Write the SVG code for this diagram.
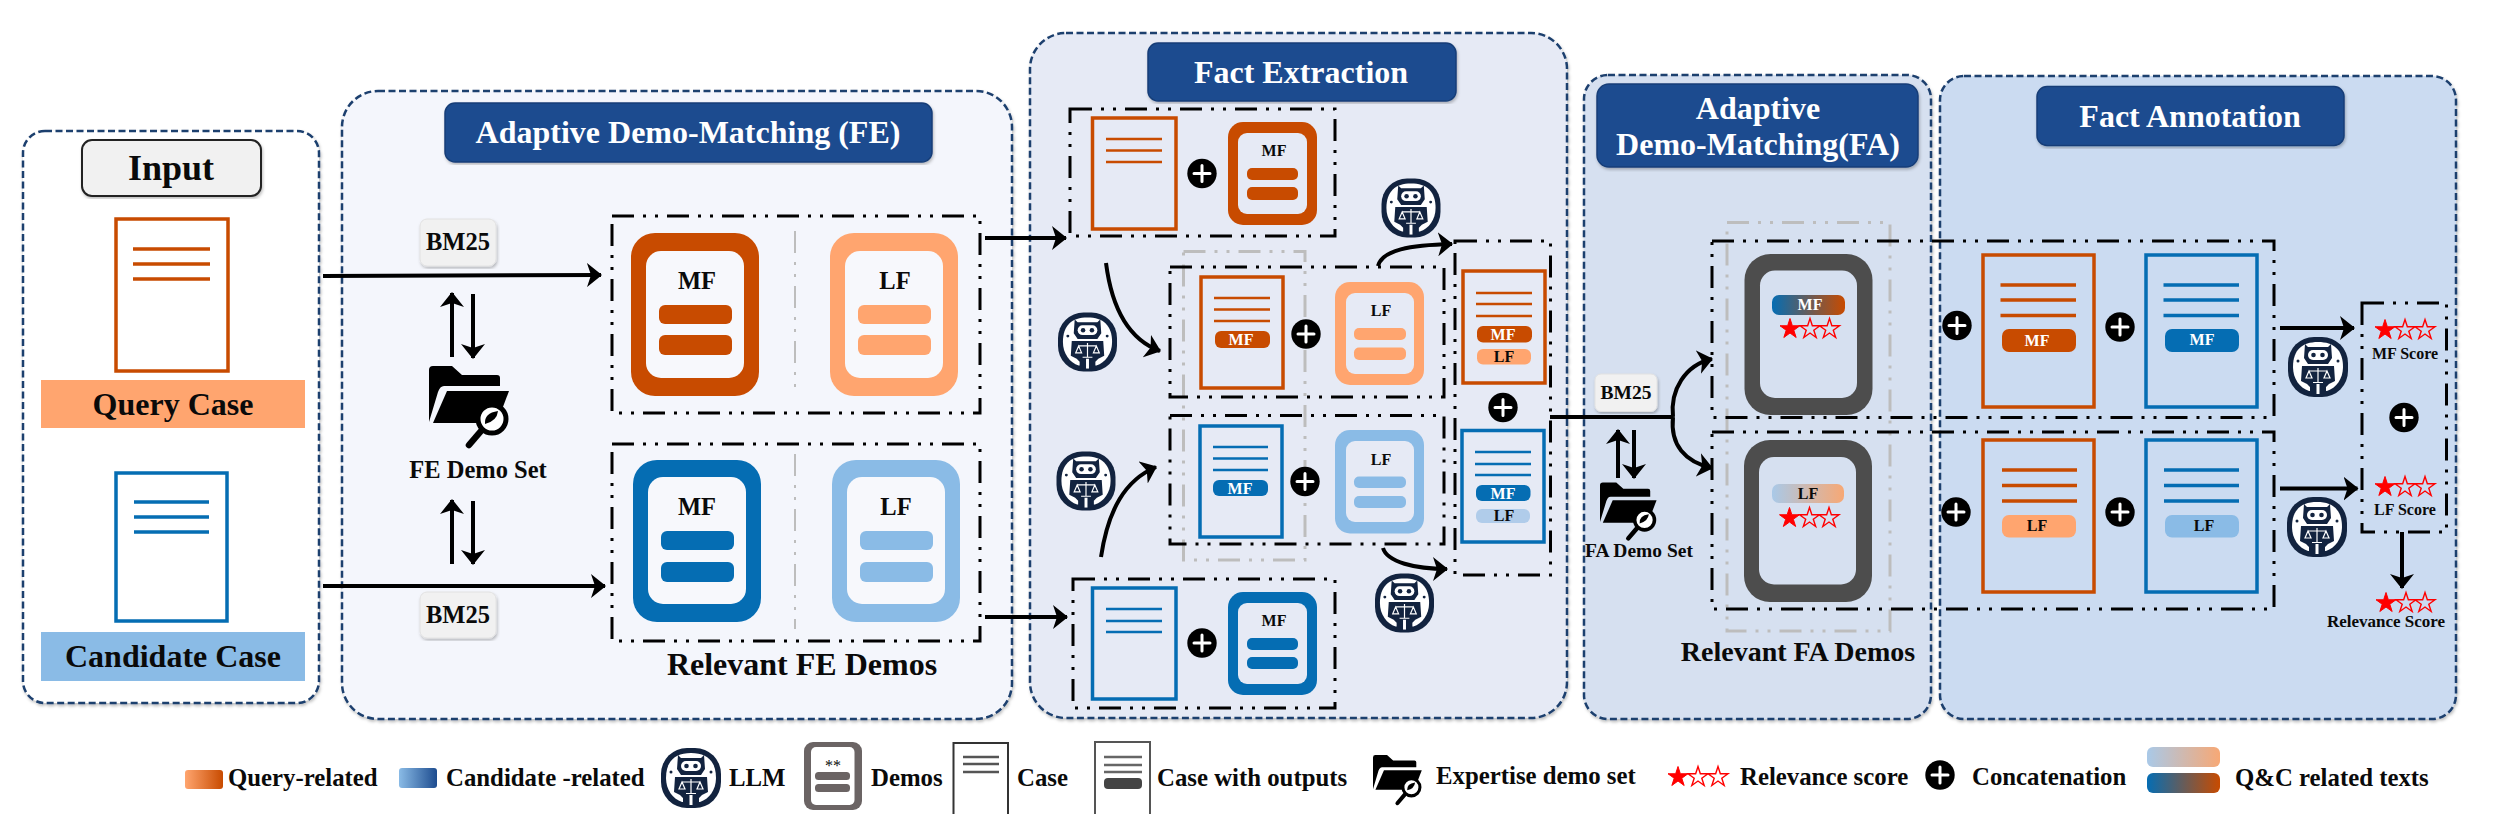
<svg xmlns="http://www.w3.org/2000/svg" xmlns:xlink="http://www.w3.org/1999/xlink" width="2504" height="814" viewBox="0 0 2504 814">
<style>
text{font-family:"Liberation Serif","Times New Roman",serif;font-weight:700;fill:#0a0a0a;text-anchor:middle;dominant-baseline:central}
.w{fill:#fff}
.l{text-anchor:start}
.s32{font-size:32px}.s24{font-size:24.5px}.s16{font-size:16px}.lg{font-size:24.8px}
.panel{stroke:#1d3f6e;stroke-width:2.5;stroke-dasharray:7 3.5;filter:url(#sh)}
.title{fill:#1d4c8f;stroke:#173e78;stroke-width:1.5;filter:url(#sh)}
.dd{fill:none;stroke:#000;stroke-width:3;stroke-dasharray:22 9 3 9 3 9}
.gd{fill:none;stroke:#bdbdbd;stroke-width:3;stroke-dasharray:22 9 3 9 3 9}
.bm{fill:#f1f1f1;stroke:#e2e2e2;stroke-width:1;filter:url(#sh)}
.co{fill:#c84b00}.lo{fill:#ffa56f}.cb{fill:#056db3}.lb{fill:#8abbe6}
.doc{fill:none;stroke-width:3.5}
.dco{stroke:#c84b00}.dcb{stroke:#056db3}
.ln{stroke-width:3.5;fill:none}
.inp{fill:#e6eaf5}
.c{fill:none;stroke:#000;stroke-width:4}
.t{fill:none;stroke:#000;stroke-width:4;marker-end:url(#ah)}
</style>
<defs>
<filter id="sh" x="-5%" y="-5%" width="110%" height="110%"><feDropShadow dx="1" dy="2" stdDeviation="1.5" flood-color="#000" flood-opacity=".25"/></filter>
<marker id="ah" markerUnits="userSpaceOnUse" markerWidth="24" markerHeight="24" refX="14" refY="12" orient="auto" viewBox="0 0 24 24"><path d="M0 0L15 12L0 24L4 12Z" fill="#000"/></marker>
<linearGradient id="g1" x1="0" x2="1" y1="0" y2="0"><stop offset="0" stop-color="#ffa56f"/><stop offset="1" stop-color="#c84b00"/></linearGradient>
<linearGradient id="g2" x1="0" x2="1" y1="0" y2="0"><stop offset="0" stop-color="#8abbe6"/><stop offset="1" stop-color="#1d4c8f"/></linearGradient>
<linearGradient id="g3" x1="0" x2="1" y1="0" y2="0"><stop offset="0" stop-color="#056db3"/><stop offset="1" stop-color="#c84b00"/></linearGradient>
<linearGradient id="g4" x1="0" x2="1" y1="0" y2="0"><stop offset="0" stop-color="#a9c9e8"/><stop offset="1" stop-color="#f7a875"/></linearGradient>
<symbol id="robot" viewBox="0 0 60 60" overflow="visible">
<rect width="60" height="60" rx="26" fill="#12233f"/>
<path d="M5 30C5 13 14 5 30 5C46 5 55 13 55 30C55 42 48 51 39 54L21 54C12 51 5 42 5 30Z" fill="#fff"/>
<path d="M17 7L20 10H40L43 7L44 21L40 27H20L16 21Z" fill="#12233f"/>
<rect x="20" y="13" width="20" height="10" rx="5" fill="#fff"/>
<circle cx="25.500" cy="18" r="2.300" fill="#12233f"/><circle cx="34.500" cy="18" r="2.300" fill="#12233f"/>
<path d="M14 29H46L47 44L41 47L38 50V57H22V50L19 47L13 44Z" fill="#12233f"/>
<path d="M30 31V45M25 45.500H35M21 34H39M21 34L18 41H24ZM39 34L36 41H42Z" stroke="#fff" stroke-width="1.200" fill="none"/>
<rect x="28.500" y="47" width="3" height="10" fill="#fff"/>
<circle cx="10" cy="24" r="1.500" fill="#12233f"/><circle cx="50" cy="24" r="1.500" fill="#12233f"/>
</symbol>
<symbol id="folder" viewBox="0 0 82 82" overflow="visible">
<path d="M0 4Q0 0 4 0L23 0L33 9L68 9Q71 9 71 12L71 20L15 20Q11 20 9 26L0 56Z" fill="#000"/>
<path d="M18 25L80 25L72 46L50 57L4 57Z" fill="#000"/>
<circle cx="63" cy="53" r="14" fill="#fff" stroke="#000" stroke-width="5"/>
<path d="M56 58Q55 47 69 45Q68 55 56 58Z" fill="#000"/>
<path d="M52 65L40 79" stroke="#000" stroke-width="6.500" stroke-linecap="round"/>
</symbol>
<symbol id="plus" viewBox="-15 -15 30 30" overflow="visible">
<circle r="14.700" fill="#000"/><path d="M-8 0H8M0-8V8" stroke="#fff" stroke-width="3" stroke-linecap="round"/>
</symbol>
<path id="sf" d="M0-10.500L2.350-3.240L9.990-3.240L3.800 1.240L6.170 8.490L0 4L-6.170 8.490L-3.800 1.240L-9.990-3.240L-2.350-3.240Z" fill="#f00" stroke="#f00" stroke-width="1"/>
<path id="so" d="M0-10.500L2.350-3.240L9.990-3.240L3.800 1.240L6.170 8.490L0 4L-6.170 8.490L-3.800 1.240L-9.990-3.240L-2.350-3.240Z" fill="none" stroke="#f00" stroke-width="1.400"/>
</defs>

<g id="panels">
<rect id="panel-input" x="23" y="131" width="296" height="572" rx="22" fill="#fff" class="panel"/>
<rect id="panel-fe" x="342" y="91" width="670" height="628" rx="36" fill="#f4f6fc" class="panel"/>
<rect id="panel-fx" x="1030" y="33" width="537" height="685" rx="36" fill="#e6eaf5" class="panel"/>
<rect id="panel-fa" x="1584" y="75" width="347" height="644" rx="24" fill="#d6e0f0" class="panel"/>
<rect id="panel-ann" x="1940" y="76" width="516" height="643" rx="24" fill="#cbdbf1" class="panel"/>
</g>

<g id="node-input">
<rect x="82" y="140" width="179" height="56" rx="10" fill="#f1f1f1" stroke="#222" stroke-width="2" filter="url(#sh)"/>
<text x="171" y="168" style="font-size:36px">Input</text>
</g>
<g id="node-query">
<rect x="116" y="219" width="112" height="152" class="doc dco" style="fill:#fff"/>
<path d="M133 249H210M133 264H210M133 279H210" class="ln dco"/>
<rect x="41" y="380" width="264" height="48" class="lo"/>
<text x="173" y="404" class="s32">Query Case</text>
</g>
<g id="node-candidate">
<rect x="116" y="473" width="111" height="148" class="doc dcb" style="fill:#fff"/>
<path d="M134 502H209M134 517H209M134 532H209" class="ln dcb"/>
<rect x="41" y="632" width="264" height="49" class="lb"/>
<text x="173" y="656" class="s32">Candidate Case</text>
</g>

<g id="node-fe-title">
<rect x="445" y="103" width="487" height="59" rx="10" class="title"/>
<text x="688" y="132" class="s32 w">Adaptive Demo-Matching (FE)</text>
</g>
<g id="node-bm25-1"><rect x="420" y="219" width="76" height="47" rx="7" class="bm"/><text x="458" y="241" class="s24">BM25</text></g>
<g id="node-bm25-2"><rect x="420" y="592" width="76" height="46" rx="7" class="bm"/><text x="458" y="614" class="s24">BM25</text></g>
<g id="node-fe-set">
<use href="#folder" x="429" y="366" width="82" height="82"/>
<text x="478" y="469" class="s24">FE Demo Set</text>
</g>
<g id="node-fe-demos-top">
<rect x="612" y="216" width="368" height="197" class="dd"/>
<path d="M795 231V396" class="gd" style="stroke-width:2"/>
<rect x="631" y="233" width="128" height="163" rx="24" class="co"/><rect x="646" y="251" width="98" height="127" rx="15" fill="#f7f8fc"/>
<text x="697" y="280" class="s24">MF</text>
<rect x="659" y="305" width="73" height="19" rx="6" class="co"/><rect x="659" y="335" width="73" height="20" rx="6" class="co"/>
<rect x="830" y="233" width="128" height="163" rx="24" class="lo"/><rect x="845" y="251" width="98" height="127" rx="15" fill="#f7f8fc"/>
<text x="895" y="280" class="s24">LF</text>
<rect x="858" y="305" width="73" height="19" rx="6" class="lo"/><rect x="858" y="335" width="73" height="20" rx="6" class="lo"/>
</g>
<g id="node-fe-demos-bottom">
<rect x="612" y="444" width="368" height="197" class="dd"/>
<path d="M795 454V629" class="gd" style="stroke-width:2"/>
<rect x="633" y="460" width="128" height="162" rx="24" class="cb"/><rect x="648" y="477" width="98" height="127" rx="15" fill="#f7f8fc"/>
<text x="697" y="506" class="s24">MF</text>
<rect x="661" y="531" width="73" height="19" rx="6" class="cb"/><rect x="661" y="562" width="73" height="20" rx="6" class="cb"/>
<rect x="832" y="460" width="128" height="162" rx="24" class="lb"/><rect x="847" y="477" width="98" height="127" rx="15" fill="#f7f8fc"/>
<text x="896" y="506" class="s24">LF</text>
<rect x="860" y="531" width="73" height="19" rx="6" class="lb"/><rect x="860" y="562" width="73" height="20" rx="6" class="lb"/>
</g>
<text id="label-fe-demos" x="802" y="664" class="s32">Relevant FE Demos</text>

<g id="node-fx-title">
<rect x="1148" y="43" width="308" height="58" rx="10" class="title"/>
<text x="1301" y="72" class="s32 w">Fact Extraction</text>
</g>
<g id="node-fx-gray"><rect x="1183.500" y="251.500" width="121.500" height="308.500" class="gd"/></g>
<g id="node-fx-1">
<rect x="1070" y="109" width="265" height="127" class="dd"/>
<rect x="1092.500" y="118" width="83.500" height="111" class="doc dco"/>
<path d="M1106 139H1162M1106 150.500H1162M1106 162H1162" class="ln dco" style="stroke-width:2.500"/>
<use href="#plus" x="1187" y="158.500" width="30" height="30"/>
<rect x="1228" y="122" width="89" height="103" rx="15" class="co"/><rect x="1238" y="133" width="69" height="81" rx="9" class="inp"/>
<text x="1274" y="150.500" class="s16">MF</text>
<rect x="1247" y="168" width="51" height="12" rx="5" class="co"/><rect x="1247" y="187" width="51" height="13" rx="5" class="co"/>
</g>
<g id="node-fx-2">
<rect x="1170" y="267" width="274" height="130" class="dd"/>
<rect x="1201" y="277" width="82" height="111" class="doc dco"/>
<path d="M1214 298H1270M1214 309.500H1270M1214 321H1270" class="ln dco" style="stroke-width:2.500"/>
<rect x="1215" y="331" width="55" height="17" rx="6" class="co"/><text x="1241" y="339.500" class="s16 w">MF</text>
<use href="#plus" x="1291" y="319" width="30" height="30"/>
<rect x="1335" y="282" width="89" height="103" rx="15" class="lo"/><rect x="1346" y="293" width="68" height="81" rx="9" class="inp"/>
<text x="1381" y="310" class="s16">LF</text>
<rect x="1354" y="328" width="52" height="12" rx="5" class="lo"/><rect x="1354" y="347.500" width="52" height="12.500" rx="5" class="lo"/>
</g>
<g id="node-fx-3">
<rect x="1170" y="415.500" width="274" height="128.500" class="dd"/>
<rect x="1200" y="426" width="82" height="111" class="doc dcb"/>
<path d="M1213 447H1268M1213 458.600H1268M1213 470H1268" class="ln dcb" style="stroke-width:2.500"/>
<rect x="1213" y="480" width="55" height="16" rx="6" class="cb"/><text x="1240" y="488" class="s16 w">MF</text>
<use href="#plus" x="1290" y="466.500" width="30" height="30"/>
<rect x="1335" y="430" width="89" height="103.500" rx="15" class="lb"/><rect x="1346" y="441" width="68" height="81" rx="9" class="inp"/>
<text x="1381" y="459" class="s16">LF</text>
<rect x="1354" y="476.500" width="52" height="11.500" rx="5" class="lb"/><rect x="1354" y="496" width="52" height="12" rx="5" class="lb"/>
</g>
<g id="node-fx-4">
<rect x="1073" y="579" width="262" height="129" class="dd"/>
<rect x="1092.500" y="588" width="83.500" height="111" class="doc dcb"/>
<path d="M1106 609H1162M1106 621H1162M1106 632H1162" class="ln dcb" style="stroke-width:2.500"/>
<use href="#plus" x="1187" y="628" width="30" height="30"/>
<rect x="1228" y="592" width="89" height="103" rx="15" class="cb"/><rect x="1238" y="603" width="69" height="81" rx="9" class="inp"/>
<text x="1274" y="620" class="s16">MF</text>
<rect x="1247" y="638" width="51" height="12" rx="5" class="cb"/><rect x="1247" y="657" width="51" height="12" rx="5" class="cb"/>
</g>
<g id="node-fx-5">
<rect x="1455" y="241" width="95.500" height="334" class="dd"/>
<rect x="1463" y="271" width="82" height="112" class="doc dco"/>
<path d="M1476 293H1532M1476 304H1532M1476 316H1532" class="ln dco" style="stroke-width:2.500"/>
<rect x="1477" y="326" width="55" height="16.500" rx="6" class="co"/><text x="1503" y="334" class="s16 w">MF</text>
<rect x="1477" y="349" width="54" height="15.500" rx="6" class="lo"/><text x="1504" y="356" class="s16">LF</text>
<use href="#plus" x="1488" y="392.500" width="30" height="30"/>
<rect x="1462" y="430.500" width="82" height="111.500" class="doc dcb"/>
<path d="M1475 452H1531M1475 464H1531M1475 475H1531" class="ln dcb" style="stroke-width:2.500"/>
<rect x="1476" y="485" width="54.500" height="16" rx="6" class="cb"/><text x="1503" y="493" class="s16 w">MF</text>
<rect x="1476" y="509" width="54" height="14" rx="6" fill="#b0ccea"/><text x="1504" y="515" class="s16">LF</text>
</g>
<use id="node-robot-1" href="#robot" x="1381.500" y="178.500" width="59" height="59"/>
<use id="node-robot-2" href="#robot" x="1058" y="312.500" width="59" height="59"/>
<use id="node-robot-3" href="#robot" x="1056.500" y="451.500" width="59" height="59"/>
<use id="node-robot-4" href="#robot" x="1375" y="573.500" width="59" height="59"/>

<g id="node-fa-title">
<rect x="1597" y="84" width="321" height="83" rx="12" class="title"/>
<text x="1758" y="108" class="s32 w">Adaptive</text>
<text x="1758" y="144" class="s32 w">Demo-Matching(FA)</text>
</g>
<g id="node-ann-title">
<rect x="2037" y="86.500" width="307" height="59" rx="10" class="title"/>
<text x="2190" y="116" class="s32 w">Fact Annotation</text>
</g>
<g id="node-bm25-3"><rect x="1595" y="374" width="62" height="37.500" rx="6" class="bm"/><text x="1626" y="392" style="font-size:19.500px">BM25</text></g>
<g id="node-fa-set">
<use href="#folder" x="1600" y="482" width="58" height="59"/>
<text x="1639" y="550" style="font-size:19.500px">FA Demo Set</text>
</g>
<g id="node-fa-gray"><rect x="1727" y="222.500" width="163" height="408.500" class="gd"/></g>
<g id="node-fa-demo-top">
<rect x="1744.500" y="254" width="128" height="161" rx="26" fill="#4d4d4d"/><rect x="1760" y="270.500" width="97" height="127.500" rx="15" fill="#d6e0f0"/>
<rect x="1772" y="295" width="73" height="20" rx="7" fill="url(#g3)"/><text x="1810" y="304.500" class="s16 w">MF</text>
<use href="#sf" x="1790" y="329"/><use href="#so" x="1810" y="329"/><use href="#so" x="1829.500" y="329"/>
</g>
<g id="node-fa-demo-bottom">
<rect x="1744" y="440" width="128" height="162" rx="26" fill="#4d4d4d"/><rect x="1759" y="457" width="97" height="127.500" rx="15" fill="#d6e0f0"/>
<rect x="1772" y="484" width="72" height="19" rx="7" fill="url(#g4)"/><text x="1808" y="493" class="s16">LF</text>
<use href="#sf" x="1789.500" y="518"/><use href="#so" x="1809.500" y="518"/><use href="#so" x="1829" y="518"/>
</g>
<g id="node-ann-top">
<rect x="1712" y="241" width="562" height="176.500" class="dd"/>
<rect x="1983" y="255" width="111" height="152" class="doc dco"/>
<path d="M2000.500 285H2076M2000.500 300H2076M2000.500 315.500H2076" class="ln dco"/>
<rect x="2002" y="329" width="74" height="23" rx="7" class="co"/><text x="2037" y="340" class="s16 w">MF</text>
<rect x="2146" y="255" width="111" height="152" class="doc dcb"/>
<path d="M2163.500 285H2239M2163.500 300H2239M2163.500 315.500H2239" class="ln dcb"/>
<rect x="2165" y="329" width="74" height="23" rx="7" class="cb"/><text x="2202" y="339" class="s16 w">MF</text>
<use href="#plus" x="1942" y="310.500" width="30" height="30"/>
<use href="#plus" x="2105" y="312" width="30" height="30"/>
</g>
<g id="node-ann-bottom">
<rect x="1712" y="432" width="562" height="177" class="dd"/>
<rect x="1983" y="440" width="111" height="152" class="doc dco"/>
<path d="M2002 470H2077M2002 485.600H2077M2002 501H2077" class="ln dco"/>
<rect x="2002" y="515" width="74" height="22.500" rx="7" class="lo"/><text x="2037" y="525" class="s16">LF</text>
<rect x="2146" y="440" width="111" height="152" class="doc dcb"/>
<path d="M2164 470H2239M2164 485.600H2239M2164 501H2239" class="ln dcb"/>
<rect x="2165" y="515" width="74" height="22.500" rx="7" class="lb"/><text x="2204" y="525" class="s16">LF</text>
<use href="#plus" x="1941" y="497" width="30" height="30"/>
<use href="#plus" x="2105" y="497" width="30" height="30"/>
</g>
<text id="label-fa-demos" x="1798" y="651" style="font-size:28px">Relevant FA Demos</text>
<use id="node-robot-5" href="#robot" x="2288" y="337" width="60" height="60"/>
<use id="node-robot-6" href="#robot" x="2287" y="497" width="60" height="60"/>
<g id="node-scores">
<rect x="2362" y="303" width="84.500" height="229" class="dd"/>
<use href="#sf" x="2385" y="330"/><use href="#so" x="2405" y="330"/><use href="#so" x="2425" y="330"/>
<text x="2405" y="353" class="s16">MF Score</text>
<use href="#plus" x="2389" y="402.500" width="30" height="30"/>
<use href="#sf" x="2385" y="487"/><use href="#so" x="2405" y="487"/><use href="#so" x="2425" y="487"/>
<text x="2405" y="509" class="s16">LF Score</text>
</g>
<g id="node-relevance">
<use href="#sf" x="2386" y="603"/><use href="#so" x="2406" y="603"/><use href="#so" x="2425" y="603"/>
<text x="2386" y="621" style="font-size:17px">Relevance Score</text>
</g>

<g id="connectors">
<path class="t" d="M323 276L601 275"/>
<path class="t" d="M323 586L605 586"/>
<path class="t" d="M452 357V293"/>
<path class="t" d="M473 294V358"/>
<path class="t" d="M452 564V500"/>
<path class="t" d="M473 501V564"/>
<path class="t" d="M985 238H1066"/>
<path class="t" d="M985 617H1067"/>
<path class="t" d="M1106 263C1112 310 1130 340 1160 351"/>
<path class="t" d="M1101 557C1108 510 1125 480 1156 467"/>
<path class="t" d="M1378 266C1382 250 1410 245 1452 244"/>
<path class="t" d="M1383 548C1387 562 1415 569 1447 569"/>
<path d="M1550 417H1673" class="c"/>
<path class="t" d="M1673 417C1670 390 1685 365 1712 359"/>
<path class="t" d="M1673 417C1670 445 1685 462 1712 468"/>
<path class="t" d="M1618 478V430"/>
<path class="t" d="M1634 430V478"/>
<path class="t" d="M2280 328H2354"/>
<path class="t" d="M2280 488.600H2357.500"/>
<path class="t" d="M2402 532V588"/>
</g>

<g id="legend">
<g id="legend-query"><rect x="185" y="770" width="38" height="19" rx="3" fill="url(#g1)"/><text x="228" y="777" class="lg l">Query-related</text></g>
<g id="legend-candidate"><rect x="399" y="768" width="38" height="20" rx="3" fill="url(#g2)"/><text x="446" y="777" class="lg l">Candidate -related</text></g>
<g id="legend-llm"><use href="#robot" x="661" y="748" width="60" height="60"/><text x="729" y="777" class="lg l">LLM</text></g>
<g id="legend-demos">
<rect x="804" y="742" width="58" height="68" rx="9" fill="#6b6464"/><rect x="811" y="747" width="43.500" height="58" rx="5" fill="#fff"/>
<text x="833" y="765" style="font-size:16px;font-weight:400">**</text>
<rect x="815" y="772" width="35" height="8" rx="3.500" fill="#6b6464"/><rect x="815" y="784" width="35" height="8" rx="3.500" fill="#6b6464"/>
<text x="871" y="777" class="lg l">Demos</text>
</g>
<g id="legend-case">
<rect x="953.500" y="743" width="54.500" height="80" fill="#fff" stroke="#333" stroke-width="2"/>
<path d="M963 757H999M963 764H999M963 772H999" stroke="#555" stroke-width="2.500"/>
<text x="1017" y="777" class="lg l">Case</text>
</g>
<g id="legend-case-out">
<rect x="1095" y="742" width="55" height="80" fill="#fff" stroke="#555" stroke-width="2"/>
<path d="M1104 757H1142M1104 765H1142M1104 772H1142" stroke="#666" stroke-width="2.500"/>
<rect x="1104" y="778" width="38" height="11" rx="4" fill="#444"/>
<text x="1157" y="777" class="lg l">Case with outputs</text>
</g>
<g id="legend-folder"><use href="#folder" x="1373" y="754" width="50" height="52"/><text x="1436" y="775" class="lg l">Expertise demo set</text></g>
<g id="legend-stars"><use href="#sf" x="1678" y="777"/><use href="#so" x="1698" y="777"/><use href="#so" x="1718" y="777"/><text x="1740" y="776" class="lg l">Relevance score</text></g>
<g id="legend-plus"><use href="#plus" x="1925" y="760" width="30" height="30"/><text x="1972" y="776" class="lg l">Concatenation</text></g>
<g id="legend-qc"><rect x="2147" y="747" width="73" height="20" rx="6" fill="url(#g4)"/><rect x="2147" y="773" width="73" height="20" rx="6" fill="url(#g3)"/><text x="2235" y="777" class="lg l">Q&amp;C related texts</text></g>
</g>
</svg>
